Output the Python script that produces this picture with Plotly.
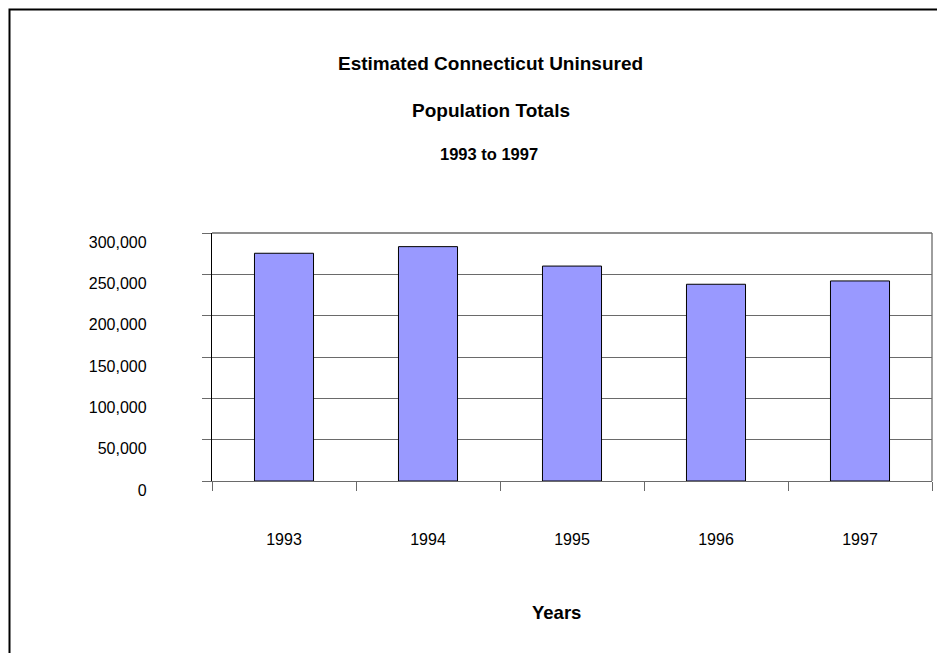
import plotly.graph_objects as go

years = ["1993", "1994", "1995", "1996", "1997"]
uninsured = [275500, 283500, 260000, 238000, 242000]
y_ticks = [0, 50000, 100000, 150000, 200000, 250000, 300000]
y_tick_text = ["0", "50,000", "100,000", "150,000", "200,000", "250,000", "300,000"]

FONT = "Arial, Liberation Sans, sans-serif"
GRID = "#6a6a6a"

fig = go.Figure(
    go.Bar(
        x=years,
        y=uninsured,
        marker=dict(color="#9999FF", line=dict(color="#000000", width=1)),
        hoverinfo="x+y",
    )
)

W, H = 937, 653
L, R, T, B = 212, 5, 233, 172
pw, ph = W - L - R, H - T - B


def px_x(x):
    return (x - L) / pw


def px_y(y):
    return (H - B - y) / ph


fig.update_layout(
    width=W,
    height=H,
    margin=dict(l=L, r=R, t=T, b=B, pad=0),
    paper_bgcolor="white",
    plot_bgcolor="white",
    font=dict(family=FONT, color="#000000"),
    bargap=0.59,
    showlegend=False,
    xaxis=dict(
        type="category",
        showgrid=False,
        showline=True,
        linecolor=GRID,
        linewidth=1.3,
        ticks="outside",
        tickson="boundaries",
        ticklen=9,
        tickcolor=GRID,
        tickwidth=1.3,
        tickfont=dict(size=16, family=FONT, color="#000000"),
        ticklabelstandoff=44,
        zeroline=False,
    ),
    yaxis=dict(
        range=[0, 300000],
        tickvals=y_ticks,
        ticktext=y_tick_text,
        showgrid=True,
        gridcolor=GRID,
        gridwidth=1.3,
        showline=True,
        linecolor="#000000",
        linewidth=1.3,
        ticks="outside",
        ticklen=9,
        tickcolor=GRID,
        tickwidth=1.3,
        tickfont=dict(size=16, family=FONT, color="#000000"),
        ticklabelstandoff=52,
        ticklabelshift=9,
        zeroline=False,
    ),
    annotations=[
        dict(text="<b>Estimated Connecticut Uninsured</b>", x=px_x(490), y=px_y(63),
             xref="paper", yref="paper", showarrow=False, xanchor="center", yanchor="middle",
             font=dict(size=19, family=FONT, color="#000000")),
        dict(text="<b>Population Totals</b>", x=px_x(491), y=px_y(110),
             xref="paper", yref="paper", showarrow=False, xanchor="center", yanchor="middle",
             font=dict(size=19, family=FONT, color="#000000")),
        dict(text="<b>1993 to 1997</b>", x=px_x(489), y=px_y(154),
             xref="paper", yref="paper", showarrow=False, xanchor="center", yanchor="middle",
             font=dict(size=16.5, family=FONT, color="#000000")),
        dict(text="<b>Years</b>", x=px_x(556), y=px_y(612),
             xref="paper", yref="paper", showarrow=False, xanchor="center", yanchor="middle",
             font=dict(size=18.5, family=FONT, color="#000000")),
    ],
    shapes=[
        # top gridline (300,000) and right border of plot area
        dict(type="line", xref="paper", yref="paper", x0=0, x1=1, y0=1, y1=1,
             line=dict(color=GRID, width=1.3), layer="below"),
        dict(type="line", xref="paper", yref="paper", x0=1, x1=1, y0=0, y1=1,
             line=dict(color=GRID, width=1.3)),
        # outer chart frame
        dict(type="rect", xref="paper", yref="paper",
             x0=px_x(9.5), x1=px_x(1200), y0=px_y(1000), y1=px_y(9.5),
             line=dict(color="#000000", width=2), layer="below"),
    ],
)

fig.write_html("out.html")
